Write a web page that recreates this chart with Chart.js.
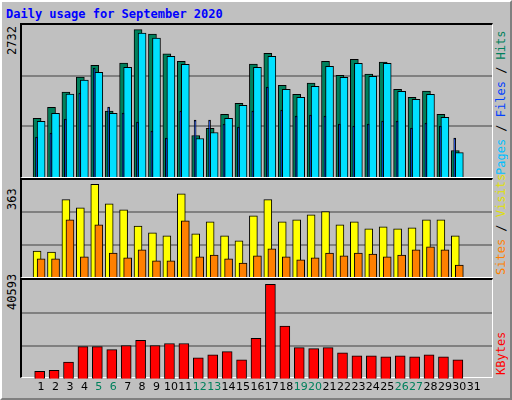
<!DOCTYPE html>
<html>
<head>
<meta charset="utf-8">
<script src="https://cdn.jsdelivr.net/npm/chart.js@4/dist/chart.umd.min.js"></script>
<style>
body { margin: 0; background: #c0c0c0; }
#frame { position: absolute; left: 0; top: 0; width: 508px; height: 396px; background: #c0c0c0;
  border-top: 2px solid #fff; border-left: 2px solid #fff; border-right: 2px solid #808080; border-bottom: 2px solid #808080; }
.panel { position: absolute; left: 20px; width: 470px; border-top: 2px solid #000; border-left: 2px solid #000;
  border-right: 1px solid #fff; border-bottom: 1px solid #fff; }
canvas { position: absolute; }
.title { position: absolute; left: 6px; top: 7px; font: bold 12px "DejaVu Sans Mono", monospace; color: #0000ff; }
.vt { position: absolute; font: 12px "DejaVu Sans Mono", monospace; writing-mode: vertical-rl; transform: rotate(180deg); white-space: nowrap; }
</style>
</head>
<body>
<div id="frame"></div>
<div class="title">Daily usage for September 2020</div>
<div class="panel" style="top:23px;height:152px"></div>
<div class="panel" style="top:178px;height:97px"></div>
<div class="panel" style="top:278px;height:97px"></div>
<canvas id="c1" style="left:22px;top:25px;width:470px;height:152px"></canvas>
<canvas id="c2" style="left:22px;top:180px;width:470px;height:97px"></canvas>
<canvas id="c3" style="left:22px;top:280px;width:470px;height:116px"></canvas>
<div class="vt" style="left:5px;top:25px;height:30px;text-align:left" id="m1"></div>
<div class="vt" style="left:5px;top:180px;height:30px;text-align:left" id="m2"></div>
<div class="vt" style="left:5px;top:280px;height:30px;text-align:left" id="m3"></div>
<div class="vt" style="left:494px;top:25px;height:150px;text-align:left"><span style="color:#00c0ff">Pages</span> / <span style="color:#0040ff">Files</span> / <span style="color:#00805c">Hits</span></div>
<div class="vt" style="left:494px;top:180px;height:95px;text-align:left"><span style="color:#ff8000">Sites</span> / <span style="color:#e0e000">Visits</span></div>
<div class="vt" style="left:494px;top:280px;height:95px;text-align:left"><span style="color:#ff0000">KBytes</span></div>
<script>
var days = [];
for (var d = 1; d <= 31; d++) days.push(d);
var weekend = [5, 6, 12, 13, 19, 20, 26, 27];

var hits = [1085, 1290, 1574, 1853, 2070, 1221, 2113, 2732, 2646, 2280, 2145, 769, 900, 1160, 1364, 2094,
  2293, 1699, 1531, 1741, 2145, 1884, 2182, 1909, 2131, 1624, 1476, 1593, 1160, 491, 0];
var files = [1030, 1178, 1537, 1797, 1940, 1178, 2033, 2665, 2572, 2238, 2089, 714, 825, 1085, 1327, 2033,
  2238, 1624, 1476, 1680, 2052, 1847, 2108, 1866, 2108, 1587, 1438, 1531, 1104, 453, 0];
var pages = [738, 812, 1072, 1555, 2020, 1295, 1184, 1016, 849, 719, 1221, 1054, 1054, 979, 923, 1221,
  1667, 1240, 1128, 1147, 1128, 979, 942, 979, 1035, 1035, 905, 998, 942, 719, 0];
var visits = [102, 98, 303, 271, 363, 287, 263, 200, 173, 161, 326, 169, 216, 161, 142, 240,
  303, 216, 224, 244, 256, 204, 216, 189, 197, 189, 193, 224, 224, 161, 0];
var sites = [71, 71, 224, 79, 204, 94, 75, 106, 63, 63, 220, 79, 86, 71, 55, 83,
  110, 79, 67, 75, 94, 83, 94, 90, 79, 86, 106, 118, 106, 47, 0];
var kbytes = [3247, 3690, 7233, 13875, 13875, 12547, 14318, 16533, 14318, 15204, 15204, 9004, 10333, 11661, 8119, 17418,
  40593, 22732, 13433, 12990, 13433, 11218, 9890, 9890, 9447, 9890, 9447, 10333, 9447, 8119, 0];

var hitsMax = 2732, visitsMax = 363, kbytesMax = 40593;
document.getElementById('m1').textContent = hitsMax;
document.getElementById('m2').textContent = visitsMax;
document.getElementById('m3').textContent = kbytesMax;

function pts(vals, shift) {
    return vals.map(function(v, i) { return { x: days[i] + shift, y: v }; }).filter(function(p) { return p.y > 0; });
}

// lower order is drawn on top
function ds(vals, shift, color, thick, order) {
    return { data: pts(vals, shift), backgroundColor: color, borderColor: '#000', borderWidth: 1,
        borderSkipped: 'bottom', barThickness: thick, grouped: false, order: order };
}

function make(id, datasets, top, frac, showX) {
    return new Chart(document.getElementById(id), {
        type: 'bar',
        data: { datasets: datasets },
        options: {
            animation: false, responsive: false, maintainAspectRatio: false,
            layout: { padding: 0 },
            plugins: { legend: { display: false }, tooltip: { enabled: false } },
            scales: {
                x: {
                    type: 'linear', min: 0.2, max: 31.74, display: showX,
                    grid: { display: false, drawTicks: false, tickLength: 0 }, border: { display: false },
                    afterBuildTicks: function(ax) { ax.ticks = days.map(function(d) { return { value: d }; }); },
                    ticks: {
                        padding: 2, autoSkip: false, maxRotation: 0,
                        font: { family: 'DejaVu Sans', size: 11 },
                        color: function(c) { return weekend.indexOf(c.tick.value) >= 0 ? '#00805c' : '#000'; }
                    }
                },
                y: {
                    min: 0, max: top / frac, display: true,
                    afterBuildTicks: function(ax) { ax.ticks = [{ value: ax.max / 3 }, { value: ax.max * 2 / 3 }]; },
                    ticks: { display: false },
                    grid: { color: '#808080', lineWidth: 2, drawTicks: false },
                    border: { display: false }
                }
            }
        }
    });
}

make('c1', [ds(pages, -0.32, '#0040ff', 2, 0), ds(files, 0.0, '#00e0ff', 8, 1), ds(hits, -0.28, '#00805c', 8, 2)], hitsMax, 0.97, false);
make('c2', [ds(sites, 0.0, '#ff8000', 8, 0), ds(visits, -0.28, '#ffff00', 8, 1)], visitsMax, 0.955, false);
make('c3', [ds(kbytes, -0.1, '#ff0000', 10, 0)], kbytesMax, 0.955, true);
</script>
</body>
</html>
